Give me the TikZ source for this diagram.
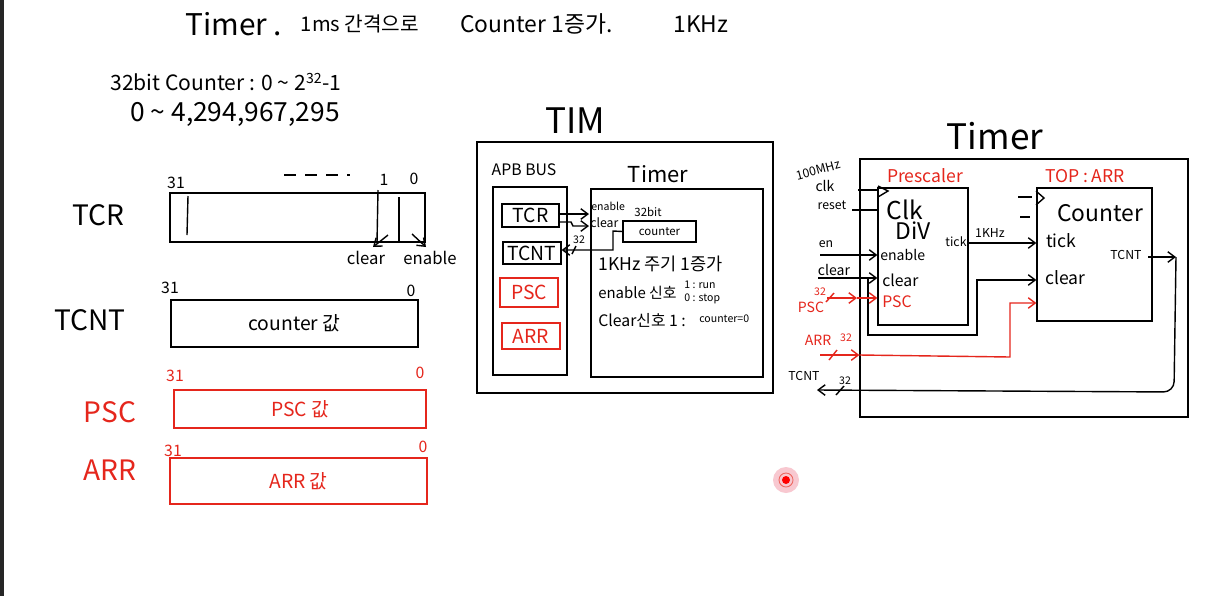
\documentclass[tikz,border=0pt]{standalone}
\usepackage{fontspec}
\setmainfont{Noto Sans CJK KR}
\usepackage{xcolor}
\usetikzlibrary{arrows.meta,positioning}
\definecolor{penred}{HTML}{E5261C}
\definecolor{halo}{HTML}{F8C8D0}
\newcommand{\penfs}[1]{\fontsize{#1}{#1}\selectfont}

\begin{document}
\begin{tikzpicture}[x=0.02cm,y=-0.02cm,
    lbl/.style={inner sep=0pt},
    rlbl/.style={lbl,text=penred},
    box/.style={draw,line width=0.7pt,inner sep=0pt},
    rbox/.style={box,draw=penred,text=penred},
    wire/.style={line width=0.8pt},
    harr/.style={wire,-{Straight Barb[length=4pt,width=6pt]}},
    rarr/.style={harr,penred}]
    \fill[white] (0,0) rectangle (1205,596);
    \fill[black!85] (0,0) rectangle (4,596);
    \useasboundingbox (0,0) rectangle (1205,596);

    \node[lbl,anchor=west] (t1) at (185,24) {\penfs{17}Timer .};
    \node[lbl] (t2) at (360,24) {\penfs{11.5}1ms 간격으로};
    \node[lbl,anchor=west] (t3) at (460,24) {\penfs{13}Counter 1증가.};
    \node[lbl,anchor=west] (t4) at (673,24) {\penfs{13}1KHz};
    \node[lbl,anchor=west] (t5) at (110,82) {\penfs{12}32bit Counter : 0 \textasciitilde{} 2\textsuperscript{32}-1};
    \node[lbl,anchor=west] (t6) at (130,114) {\penfs{15}0 \textasciitilde{} 4,294,967,295};

    \node[lbl] (ltcr) at (98,215) {\penfs{16}TCR};
    \node[box,minimum width=5.1cm,minimum height=0.98cm] (tcr) at (297.5,217.5) {};
    \draw[wire] (188,196) -- (187,235);
    \draw[wire] (378,190) -- (377,243);
    \draw[wire] (399,197) -- (399,243);
    \node[lbl] (b31a) at (176,183) {\penfs{9}31};
    \draw[wire,dash pattern=on 7pt off 5pt] (284,175) -- (350,175);
    \node[lbl] (b1a) at (384,180) {\penfs{9}1};
    \node[lbl] (b0a) at (414,179) {\penfs{9}0};
    \node[lbl] (tclr) at (366,258) {\penfs{9.5}clear};
    \node[lbl] (tenb) at (430,258) {\penfs{9.5}enable};
    \draw[harr] (388,235) -- (373,247);
    \draw[harr] (412,234) -- (426,247);

    \node[lbl] (ltcnt) at (90,320) {\penfs{16}TCNT};
    \node[box,minimum width=4.94cm,minimum height=0.94cm] (tcnt) at (294.5,323.5) {\penfs{11}counter 값};
    \node[lbl] (b31b) at (170,288) {\penfs{9}31};
    \node[lbl] (b0b) at (411,291) {\penfs{9}0};

    \node[rlbl] (lpsc) at (110,412) {\penfs{16}PSC};
    \node[rbox,minimum width=5.04cm,minimum height=0.76cm] (psc) at (300,409) {\penfs{11}PSC 값};
    \node[rlbl] (b31c) at (175,376) {\penfs{9}31};
    \node[rlbl] (b0c) at (420,373) {\penfs{9}0};

    \node[rlbl] (larr) at (110,470) {\penfs{16}ARR};
    \node[rbox,minimum width=5.14cm,minimum height=0.92cm] (arr) at (298.5,481) {\penfs{11}ARR 값};
    \node[rlbl] (b31d) at (173,451) {\penfs{9}31};
    \node[rlbl] (b0d) at (423,447) {\penfs{9}0};

    \node[lbl] (ltim) at (575,121) {\penfs{20}TIM};
    \node[box,minimum width=5.92cm,minimum height=5.02cm] (tim) at (625,267.5) {};
    \node[lbl] (lapb) at (524,170) {\penfs{9}APB BUS};
    \node[box,minimum width=1.48cm,minimum height=3.76cm] (apb) at (530,281) {};
    \node[lbl] (ltimer) at (658,174) {\penfs{12.5}Timer};
    \node[box,minimum width=3.44cm,minimum height=3.76cm] (timin) at (677,283) {};
    \node[box,minimum width=1.14cm,minimum height=0.46cm] (tcrs) at (530.5,215.5) {\penfs{11}TCR};
    \node[box,minimum width=1.16cm,minimum height=0.44cm] (tcnts) at (532,253) {\penfs{11}TCNT};
    \node[rbox,minimum width=1.16cm,minimum height=0.58cm] (pscs) at (529,292.5) {\penfs{11}PSC};
    \node[rbox,minimum width=1.16cm,minimum height=0.52cm] (arrs) at (531,336) {\penfs{11}ARR};
    \node[box,minimum width=1.46cm,minimum height=0.42cm] (cnts) at (659.5,231.5) {\penfs{6.5}counter};
    \node[lbl] (l32bit) at (648,212) {\penfs{6.5}32bit};
    \node[lbl,anchor=west] (senb) at (591,206) {\penfs{6}enable};
    \node[lbl,anchor=west] (sclr) at (590,223) {\penfs{7}clear};
    \draw[harr] (tcrs.east |- 0,214) -- (589,214);
    \draw[harr] (tcrs.east |- 0,222) -- (571,222) -- (573,226) -- (589,226);
    \draw[harr] (cnts.west) -- (613,231) -- (613,250) -- (tcnts.east |- 0,250);
    \node[lbl] (s32) at (579,240) {\penfs{6}32};
    \draw[wire] (572,254) -- (576,246);
    \node[lbl,anchor=west] (n1) at (598,264) {\penfs{10}1KHz 주기 1증가};
    \node[lbl,anchor=west] (n2) at (598,293) {\penfs{8.5}enable 신호};
    \node[lbl,anchor=west] (n3) at (684,285) {\penfs{6}1 : run};
    \node[lbl,anchor=west] (n4) at (684,299) {\penfs{6}0 : stop};
    \node[lbl,anchor=west] (n5) at (598,320) {\penfs{9}Clear신호 1 :};
    \node[lbl,anchor=west] (n6) at (699,319) {\penfs{6}counter=0};

    \node[lbl] (ltmr) at (995,136) {\penfs{20}Timer};
    \node[box,minimum width=6.56cm,minimum height=5.16cm] (tmr) at (1024,288) {};
    \node[box,minimum width=1.8cm,minimum height=2.74cm] (pre) at (923,256.5) {};
    \node[box,minimum width=2.3cm,minimum height=2.66cm] (ctr) at (1094.5,254.5) {};
    \node[rlbl] (lpre) at (925,176) {\penfs{10}Prescaler};
    \node[rlbl] (ltop) at (1085,176) {\penfs{10}TOP : ARR};
    \node[lbl] (pclk) at (905,210) {\penfs{14}Clk};
    \node[lbl] (pdiv) at (913,231) {\penfs{13}DiV};
    \node[lbl] (ptick) at (956,242) {\penfs{7}tick};
    \node[lbl,anchor=west] (penb) at (880,255) {\penfs{8}enable};
    \node[lbl,anchor=west] (pclr) at (882,280) {\penfs{9}clear};
    \node[rlbl,anchor=west] (ppsc) at (882,302) {\penfs{9}PSC};
    \node[lbl] (ccnt) at (1100,213) {\penfs{13}Counter};
    \node[lbl,anchor=west] (ctick) at (1046,241) {\penfs{10}tick};
    \node[lbl,anchor=west] (cclr) at (1045,278) {\penfs{10}clear};
    \node[lbl] (ctcnt) at (1126,255) {\penfs{7}TCNT};

    \node[lbl,rotate=15] (i100) at (818,170) {\penfs{7}100MHz};
    \node[lbl] (iclk) at (825,186) {\penfs{8}clk};
    \node[lbl] (irst) at (832,205) {\penfs{7}reset};
    \node[lbl] (ien) at (826,244) {\penfs{7}en};
    \node[lbl] (iclr) at (834,270) {\penfs{8}clear};
    \node[rlbl] (ip32) at (820,292) {\penfs{6}32};
    \node[rlbl] (ipsc) at (811,307) {\penfs{8}PSC};
    \node[rlbl] (iarr) at (818,340) {\penfs{8}ARR};
    \node[rlbl] (ia32) at (846,338) {\penfs{6}32};
    \node[lbl] (otcnt) at (804,376) {\penfs{7}TCNT};
    \node[lbl] (ot32) at (845,381) {\penfs{6}32};
    \node[lbl] (lkhz) at (990,233) {\penfs{7}1KHz};

    \draw[wire] (858,190) -- (878,190);
    \draw[wire] (878,186) -- (888,191) -- (878,197);
    \draw[wire] (852,210) -- (pre.west |- 0,210);
    \draw[harr] (820,255) -- (pre.west |- 0,255);
    \draw[harr] (818,278) -- (pre.west |- 0,278);
    \draw[harr] (868,278) -- (868,335) -- (977,335) -- (977,280) -- (ctr.west |- 0,280);
    \draw[rarr] (827,298) -- (857,298);
    \draw[rarr] (857,298) -- (pre.west |- 0,298);
    \draw[wire,penred] (826,302) -- (834,293);
    \draw[rarr] (820,355) -- (tmr.west |- 0,355);
    \draw[wire,penred] (829,360) -- (837,350);
    \draw[rarr] (tmr.west |- 0,355) -- (1010,357) -- (1010,303) -- (ctr.west |- 0,303);
    \draw[harr] (pre.east |- 0,243) -- (ctr.west |- 0,243);
    \draw[harr] (1148,257) -- (1176,257);
    \draw[harr,rounded corners=6pt] (1176,257) -- (1174,392) -- (817,390);
    \draw[wire] (836,395) -- (844,386);
    \draw[wire] (1018,197) -- (1032,197);
    \draw[wire] (1036,191) -- (1044,198) -- (1036,205);
    \draw[wire] (1020,217) -- (1030,217);

    \fill[halo] (786,480) circle (13);
    \draw[penred!70,line width=0.5pt] (786,480) circle (7);
    \fill[red] (786,480) circle (4);
\end{tikzpicture}
\end{document}
